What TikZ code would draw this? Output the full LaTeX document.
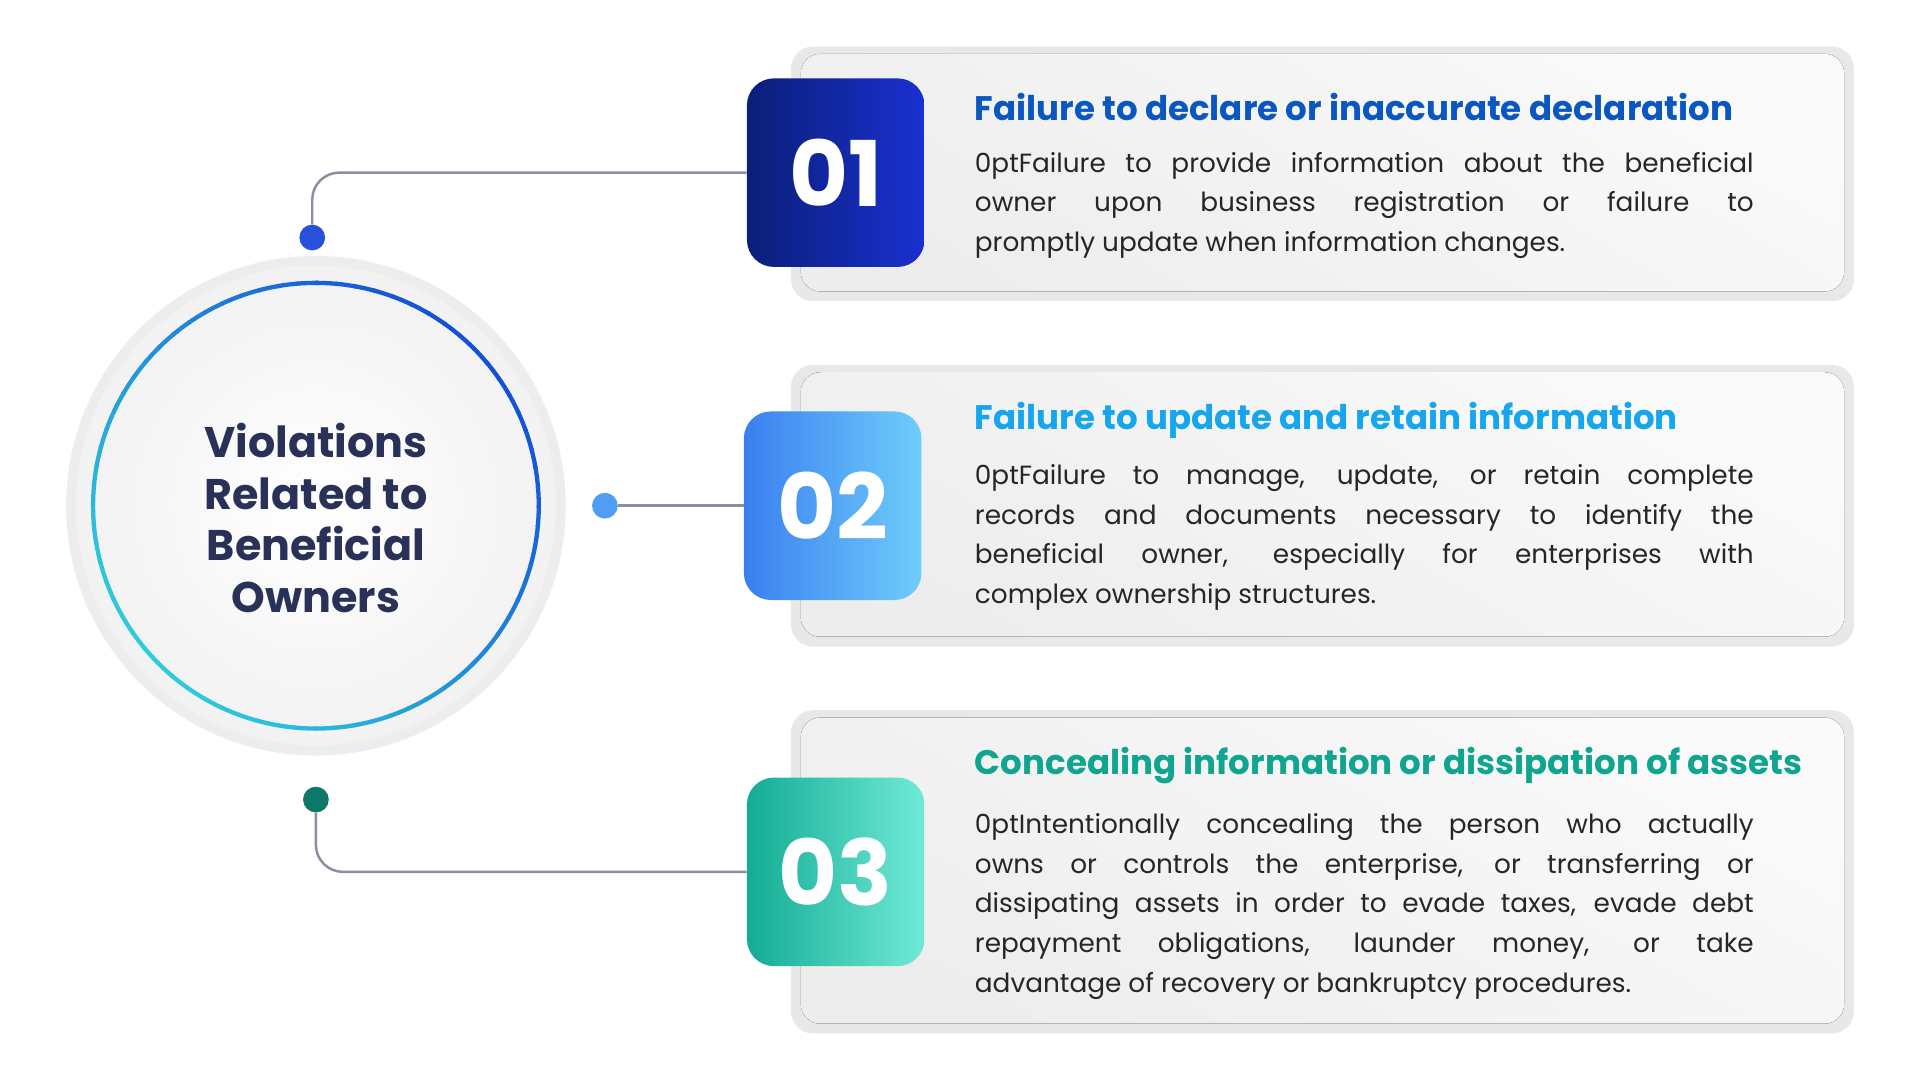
\documentclass[tikz,border=0pt]{standalone}
\usepackage{fontspec}
\setmainfont{Poppins}
\usetikzlibrary{calc}
\definecolor{navyA}{HTML}{0A1F78}\definecolor{navyB}{HTML}{1A30D0}
\definecolor{blueA}{HTML}{3A7FEF}\definecolor{blueB}{HTML}{6FCDFB}
\definecolor{tealA}{HTML}{14AC94}\definecolor{tealB}{HTML}{70EAD8}
\definecolor{t1}{HTML}{0A57C2}\definecolor{t2}{HTML}{16A6EE}\definecolor{t3}{HTML}{0FA58F}
\definecolor{ink}{HTML}{2A3158}\definecolor{lin}{HTML}{8A8FA0}
\definecolor{ringA}{HTML}{2ECBDC}\definecolor{ringB}{HTML}{1450D8}
\newcommand{\lb}{\linebreak[4]}
\tikzset{
 card/.style={rounded corners=18pt, fill=gray!18},
 cardin/.style={rounded corners=16pt, shading=axis, top color=gray!4, bottom color=gray!14, shading angle=-30},
 num/.style={rounded corners=22pt, minimum width=145pt, minimum height=154pt, text=white, font=\fontsize{74}{74}\selectfont\bfseries, inner sep=0pt},
 ttl/.style={anchor=west, font=\fontsize{27.8}{30}\selectfont\bfseries, inner sep=0pt},
 body/.style={anchor=north west, text width=636pt, align=justify, font=\fontsize{21.5}{32.5}\selectfont\hyphenpenalty=10000\tolerance=10000, text=black!85, inner sep=0pt},
 conn/.style={draw=lin, line width=2pt, rounded corners=22pt},
 dot/.style={circle, minimum size=21pt, inner sep=0pt},
}
\begin{document}
\begin{tikzpicture}[x=1pt,y=-1pt]
\useasboundingbox (0,0) rectangle (1568,882);
\fill[white] (0,0) rectangle (1568,882);
% cards
\fill[card] (646,38) rectangle (1514,246);
\fill[cardin] (654,44) rectangle (1506,238);
\fill[card] (646,298) rectangle (1514,528);
\fill[cardin] (654,304) rectangle (1506,520);
\fill[card] (646,580) rectangle (1514,844);
\fill[cardin] (654,586) rectangle (1506,836);
% circle
\fill[gray!14] (258,413) circle (204);
\shade[inner color=white, outer color=gray!10] (258,413) circle (196);
\foreach \i in {0,...,71}{
  \pgfmathsetmacro{\m}{100*(0.5+0.5*cos(\i*5+45))}
  \colorlet{rc}{ringB!\m!ringA}
  \draw[rc, line width=3.5pt] ($(258,413)+(\i*5:182)$) arc[start angle=\i*5, end angle=\i*5+5.5, radius=182];
}
\node[align=center, text=ink, font=\fontsize{35}{42}\selectfont\bfseries] (center) at (258,423) {Violations\\Related to\\Beneficial\\Owners};
% number boxes
\node[num, shading=axis, left color=navyA, right color=navyB] (n1) at (682.5,141) {01};
\node[num, shading=axis, left color=blueA, right color=blueB] (n2) at (680,413) {02};
\node[num, shading=axis, left color=tealA, right color=tealB] (n3) at (682.5,712) {03};
% dots
\node[dot, fill=blueA!40!navyB] (d1) at (255,194) {};
\node[dot, fill=blueA!60!blueB] (d2) at (494,413) {};
\node[dot, fill=tealA!70!black] (d3) at (258,653) {};
\draw[conn] (n1.west) -- (255,141) -- (d1.north);
\draw[conn] (d2.east) -- (n2.west);
\draw[conn] (d3.south) -- (258,712) -- (n3.west);
% texts
\node[ttl, text=t1] (h1) at (796,87) {Failure to declare or inaccurate declaration};
\node[body] (b1) at (796,124) {Failure to provide information about the beneficial\lb{} owner upon business registration or failure to\lb{} promptly update when information changes.};
\node[ttl, text=t2] (h2) at (796,343) {Failure to update and retain information};
\node[body] (b2) at (796,379) {Failure to manage, update, or retain complete\lb{} records and documents necessary to identify the\lb{} beneficial owner, especially for enterprises with\lb{} complex ownership structures.};
\node[ttl, text=t3] (h3) at (796,625) {Concealing information or dissipation of assets};
\node[body] (b3) at (796,664) {Intentionally concealing the person who actually\lb{} owns or controls the enterprise, or transferring or\lb{} dissipating assets in order to evade taxes, evade debt\lb{} repayment obligations, launder money, or take\lb{} advantage of recovery or bankruptcy procedures.};
\end{tikzpicture}
\end{document}
